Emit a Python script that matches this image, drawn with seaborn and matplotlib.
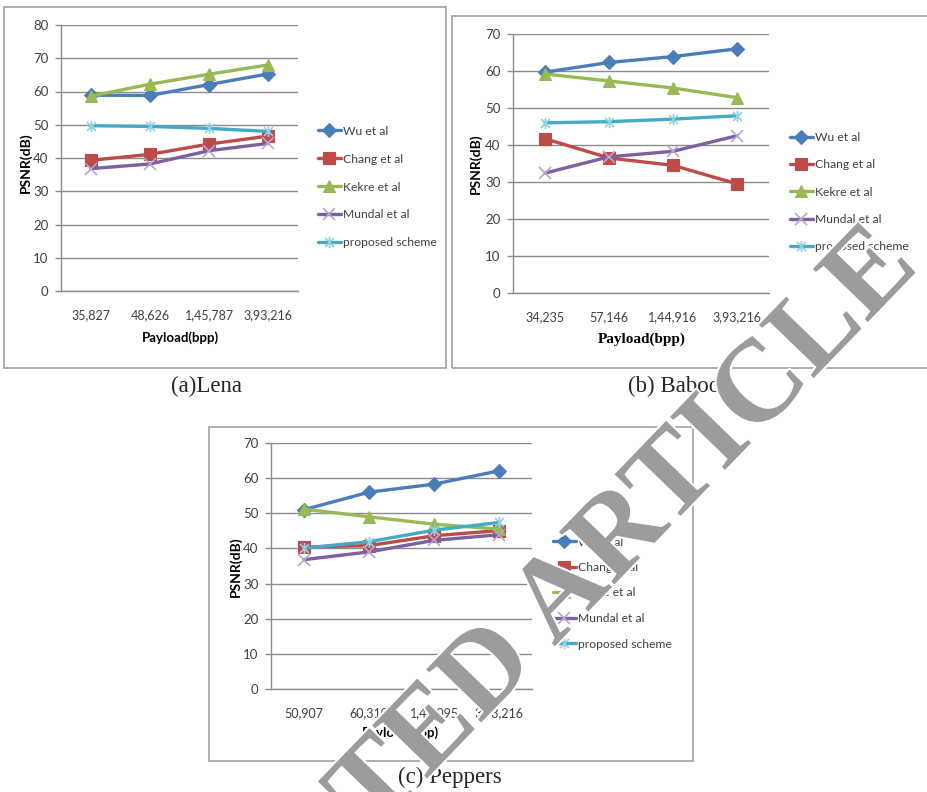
import numpy as np
import pandas as pd
import matplotlib
matplotlib.use("Agg")
import matplotlib.pyplot as plt
import seaborn as sns
from matplotlib.patches import Rectangle
from matplotlib.path import Path
import matplotlib.patheffects as pe

# ---------------- data ----------------
series = ["Wu et al", "Chang et al", "Kekre et al", "Mundal et al", "proposed scheme"]

lena_payload = ["35,827", "48,626", "1,45,787", "3,93,216"]
lena_wu = [58.9, 58.8, 62.1, 65.3]
lena_chang = [39.3, 41.1, 44.2, 46.6]
lena_kekre = [58.6, 62.2, 65.2, 68.0]
lena_mundal = [36.8, 38.2, 42.2, 44.4]
lena_proposed = [49.7, 49.5, 48.9, 48.0]

baboon_payload = ["34,235", "57,146", "1,44,916", "3,93,216"]
baboon_wu = [59.7, 62.3, 63.9, 66.0]
baboon_chang = [41.7, 36.5, 34.5, 29.5]
baboon_kekre = [59.2, 57.3, 55.4, 52.8]
baboon_mundal = [32.4, 36.8, 38.3, 42.5]
baboon_proposed = [46.0, 46.3, 47.0, 47.9]

peppers_payload = ["50,907", "60,310", "1,46,095", "3,93,216"]
peppers_wu = [51.0, 56.0, 58.3, 62.1]
peppers_chang = [40.4, 40.8, 43.6, 45.1]
peppers_kekre = [51.2, 49.0, 46.9, 45.5]
peppers_mundal = [36.8, 39.0, 42.3, 43.9]
peppers_proposed = [40.1, 41.9, 45.2, 47.4]

captions = ["(a)Lena", "(b) Baboon", "(c) Peppers"]
watermark = "RETRACTED ARTICLE"

# ---------------- style ----------------
W, H = 927, 792
sns.set_style("white")
plt.rcParams["font.family"] = ["Lato", "DejaVu Sans"]

line_colors = {"Wu et al": "#4a7ebb", "Chang et al": "#be4b48", "Kekre et al": "#98b954",
               "Mundal et al": "#7d60a0", "proposed scheme": "#46aac5"}
edge_colors = {"Wu et al": "#4a7ebb", "Chang et al": "#be4b48", "Kekre et al": "#98b954",
               "Mundal et al": "#b7a6cf", "proposed scheme": "#8fd0e3"}
asterisk = Path([(-1, -1), (1, 1), (-1, 1), (1, -1), (0, -1.25), (0, 1.25)],
                [Path.MOVETO, Path.LINETO, Path.MOVETO, Path.LINETO, Path.MOVETO, Path.LINETO])
markers = {"Wu et al": "D", "Chang et al": "s", "Kekre et al": "^", "Mundal et al": "x",
           "proposed scheme": asterisk}
msizes = {"Wu et al": 7, "Chang et al": 8, "Kekre et al": 8.5, "Mundal et al": 8,
          "proposed scheme": 8}

GRID = "#8c8c8c"
TXT = "#404040"

fig = plt.figure(figsize=(W / 100, H / 100), dpi=100)


def fx(px):
    return px / W


def fy(py):
    return 1 - py / H


def add_box(l, t, r, b):
    fig.add_artist(Rectangle((fx(l), fy(b)), (r - l) / W, (b - t) / H,
                             transform=fig.transFigure, fill=False,
                             ec="#a8a8a8", lw=1.3))


def panel(box, axpx, ymax, cats, values, ylab_px, xlab_px, xlab_font,
          leg_px, leg_spacing):
    add_box(*box)
    l, t, r, b = axpx
    ax = fig.add_axes([fx(l), fy(b), (r - l) / W, (b - t) / H])
    x = np.arange(len(cats))
    for name, vals in zip(series, values):
        df = pd.DataFrame({"payload": x, "psnr": vals})
        filled = name not in ("Mundal et al", "proposed scheme")
        sns.lineplot(data=df, x="payload", y="psnr", ax=ax, color=line_colors[name],
                     marker=markers[name], markersize=msizes[name],
                     markeredgecolor=edge_colors[name],
                     markerfacecolor=line_colors[name] if filled else "none",
                     markeredgewidth=0.8 if filled else 1.2,
                     linewidth=2.4, label=name)
    ax.set_xlim(-0.5, len(cats) - 0.5)
    ax.set_ylim(0, ymax)
    ax.set_yticks(np.arange(0, ymax + 1, 10))
    ax.set_xticks(x)
    ax.set_xticklabels(cats)
    ax.set_xticks(np.arange(-0.5, len(cats), 1.0), minor=True)
    ax.tick_params(axis="x", which="major", length=0, pad=13, labelsize=9, labelcolor=TXT)
    ax.tick_params(axis="x", which="minor", length=5, width=1, color=GRID, direction="out")
    ax.tick_params(axis="y", which="major", length=4, width=1, color=GRID, direction="out",
                   pad=5, labelsize=9.5, labelcolor=TXT, left=True)
    ax.yaxis.grid(True, color=GRID, lw=1)
    ax.xaxis.grid(False)
    ax.set_axisbelow(True)
    for s in ("top", "right"):
        ax.spines[s].set_visible(False)
    for s in ("left", "bottom"):
        ax.spines[s].set_color(GRID)
        ax.spines[s].set_linewidth(1)
    ax.set_xlabel("")
    ax.set_ylabel("")
    fig.text(fx(ylab_px[0]), fy(ylab_px[1]), "PSNR(dB)", rotation=90, ha="center",
             va="center", fontsize=10, fontweight="bold", color="black")
    fig.text(fx(xlab_px[0]), fy(xlab_px[1]), xlab_px[2], ha="center", va="center",
             color="black", **xlab_font)
    handles, labels = ax.get_legend_handles_labels()
    ax.legend(handles, labels, loc="center left",
              bbox_to_anchor=(fx(leg_px[0]), fy(leg_px[1])), bbox_transform=fig.transFigure,
              frameon=False, fontsize=8.7, handlelength=1.9, handletextpad=0.15,
              labelspacing=leg_spacing, borderpad=0, borderaxespad=0, numpoints=1,
              labelcolor=TXT)
    return ax


calibri_bold = dict(fontsize=9.5, fontweight="bold", family=["Lato", "DejaVu Sans"])
times_bold = dict(fontsize=11, fontweight="bold", family=["Liberation Serif", "DejaVu Serif"])

panel((4, 7, 446, 368), (61, 25, 298, 291), 80, lena_payload,
      [lena_wu, lena_chang, lena_kekre, lena_mundal, lena_proposed],
      (26, 163), (180, 338, "Payload(bpp)"), calibri_bold, (318, 187), 1.4)

panel((452, 16, 935, 368), (513, 34, 769, 293), 70, baboon_payload,
      [baboon_wu, baboon_chang, baboon_kekre, baboon_mundal, baboon_proposed],
      (476, 164), (642, 339, "Payload(bpp)"), times_bold, (790, 192), 1.35)

panel((209, 427, 693, 761), (271, 443, 532, 689), 70, peppers_payload,
      [peppers_wu, peppers_chang, peppers_kekre, peppers_mundal, peppers_proposed],
      (236, 567), (400, 733, "Payload(dpp)"), calibri_bold, (553, 593), 1.2)

serif = ["Liberation Serif", "DejaVu Serif"]
fig.text(fx(207), fy(386), captions[0], ha="center", va="center", fontsize=16.5, family=serif)
fig.text(fx(680), fy(386), captions[1], ha="center", va="center", fontsize=16.5, family=serif)
fig.text(fx(450), fy(777), captions[2], ha="center", va="center", fontsize=16.5, family=serif)

fig.text(fx(920), fy(268), watermark, rotation=46, rotation_mode="anchor", ha="right",
         va="baseline", fontsize=84, fontweight="bold", family=serif, color="#9c9c9c",
         zorder=20, path_effects=[pe.withStroke(linewidth=3, foreground="white")])

fig.savefig("out.png", dpi=100, facecolor="white")
